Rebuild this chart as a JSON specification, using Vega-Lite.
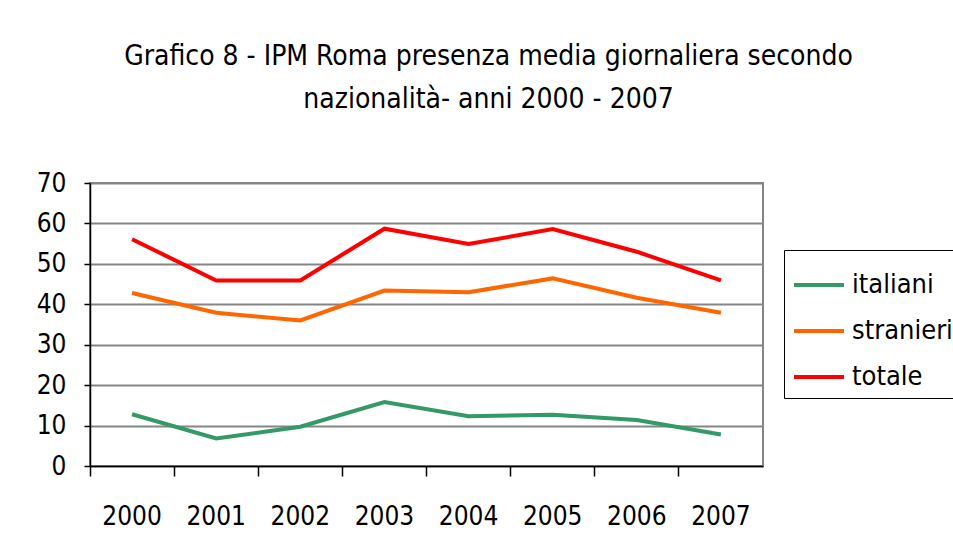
{
  "$schema": "https://vega.github.io/schema/vega-lite/v6.json",
  "width": 673,
  "height": 283,
  "autosize": {"type": "none"},
  "padding": {"left": 90, "top": 183, "right": 190, "bottom": 90},
  "background": "white",
  "title": {
    "text": ["Grafico 8 - IPM Roma presenza media giornaliera secondo", "nazionalità- anni 2000 - 2007"],
    "font": "DejaVu Sans Condensed",
    "fontSize": 28,
    "fontWeight": "normal",
    "color": "black",
    "lineHeight": 43,
    "anchor": "middle",
    "frame": "group",
    "dx": 62,
    "offset": 56
  },
  "data": {
    "values": [
      {"anno": "2000", "serie": "italiani", "valore": 12.8},
      {"anno": "2001", "serie": "italiani", "valore": 6.8},
      {"anno": "2002", "serie": "italiani", "valore": 9.7},
      {"anno": "2003", "serie": "italiani", "valore": 15.8},
      {"anno": "2004", "serie": "italiani", "valore": 12.3},
      {"anno": "2005", "serie": "italiani", "valore": 12.7},
      {"anno": "2006", "serie": "italiani", "valore": 11.4},
      {"anno": "2007", "serie": "italiani", "valore": 7.8},
      {"anno": "2000", "serie": "stranieri", "valore": 42.8},
      {"anno": "2001", "serie": "stranieri", "valore": 37.9},
      {"anno": "2002", "serie": "stranieri", "valore": 36.0},
      {"anno": "2003", "serie": "stranieri", "valore": 43.4},
      {"anno": "2004", "serie": "stranieri", "valore": 43.0},
      {"anno": "2005", "serie": "stranieri", "valore": 46.4},
      {"anno": "2006", "serie": "stranieri", "valore": 41.6},
      {"anno": "2007", "serie": "stranieri", "valore": 37.9},
      {"anno": "2000", "serie": "totale", "valore": 56.1},
      {"anno": "2001", "serie": "totale", "valore": 45.9},
      {"anno": "2002", "serie": "totale", "valore": 45.9},
      {"anno": "2003", "serie": "totale", "valore": 58.7},
      {"anno": "2004", "serie": "totale", "valore": 54.9},
      {"anno": "2005", "serie": "totale", "valore": 58.6},
      {"anno": "2006", "serie": "totale", "valore": 53.0},
      {"anno": "2007", "serie": "totale", "valore": 45.9}
    ]
  },
  "mark": {"type": "line", "strokeWidth": 4},
  "encoding": {
    "x": {
      "field": "anno",
      "type": "ordinal",
      "scale": {"type": "band", "paddingInner": 0, "paddingOuter": 0},
      "axis": {
        "title": null,
        "labelAngle": 0,
        "labelFont": "DejaVu Sans Condensed",
        "labelFontSize": 26,
        "labelColor": "black",
        "labelPadding": 27,
        "tickSize": 10,
        "tickColor": "black",
        "domainColor": "black",
        "domainWidth": 1.5,
        "tickWidth": 1.5,
        "bandPosition": 0,
        "grid": false
      }
    },
    "y": {
      "field": "valore",
      "type": "quantitative",
      "scale": {"domain": [0, 70], "nice": false},
      "axis": {
        "title": null,
        "values": [0, 10, 20, 30, 40, 50, 60, 70],
        "labelFont": "DejaVu Sans Condensed",
        "labelFontSize": 26,
        "labelColor": "black",
        "labelPadding": 18,
        "tickSize": 6,
        "tickColor": "black",
        "tickWidth": 1.5,
        "domainColor": "black",
        "domainWidth": 1.5,
        "grid": true,
        "gridColor": "#858585",
        "gridWidth": 2
      }
    },
    "color": {
      "field": "serie",
      "type": "nominal",
      "scale": {"domain": ["italiani", "stranieri", "totale"], "range": ["#339966", "#FF6600", "#FF0000"]},
      "legend": {
        "title": null,
        "orient": "none",
        "legendX": 694,
        "legendY": 67,
        "strokeColor": "black",
        "padding": 8,
        "symbolType": "stroke",
        "symbolSize": 2500,
        "symbolStrokeWidth": 4,
        "labelFont": "DejaVu Sans Condensed",
        "labelFontSize": 27,
        "labelColor": "black",
        "labelOffset": 6,
        "rowPadding": 6
      }
    }
  },
  "config": {
    "view": {"stroke": "#858585", "strokeWidth": 2}
  }
}
